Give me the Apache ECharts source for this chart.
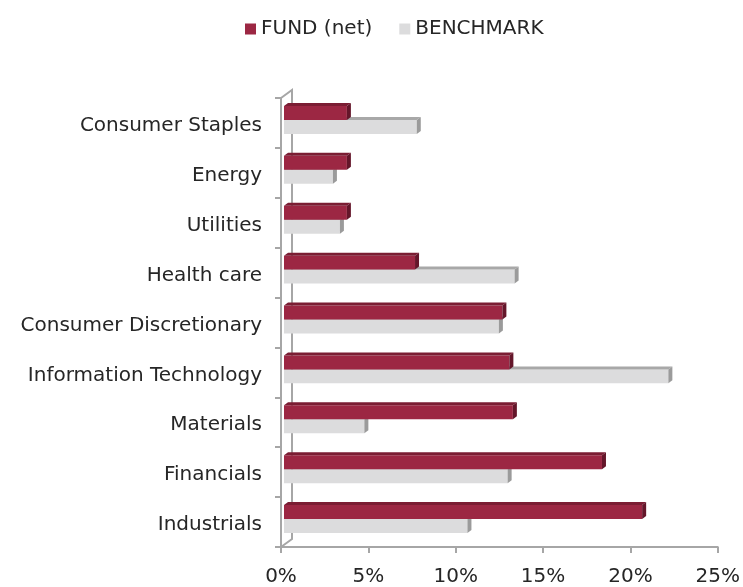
<!DOCTYPE html>
<html>
<head>
<meta charset="utf-8">
<script src="https://cdn.jsdelivr.net/npm/echarts@6/dist/echarts.min.js"></script>
<style>
  html, body { margin: 0; padding: 0; background: #fff; }
  #chart { width: 743px; height: 587px; }
</style>
</head>
<body>
<div id="chart"></div>
<script>
(function () {
    "use strict";

    // sectors, top to bottom
    var categories = [
        'Consumer Staples', 'Energy', 'Utilities', 'Health care',
        'Consumer Discretionary', 'Information Technology', 'Materials',
        'Financials', 'Industrials'
    ];
    var fundNet = [3.6, 3.6, 3.6, 7.5, 12.5, 12.9, 13.1, 18.2, 20.5];
    var benchmark = [7.6, 2.8, 3.2, 13.2, 12.3, 22.0, 4.6, 12.8, 10.5];
    var xTicks = [0, 5, 10, 15, 20, 25];

    var fontFam = 'DejaVu Sans';
    var axisGrey = '#a6a6a6';
    var textCol = '#262626';

    // colores de las caras del bloque 3d: frente, arriba, lado
    var fundFaces = ['#9c2743', '#7b1d33', '#64162a'];
    var benchFaces = ['#dcdcdd', '#a8a8a8', '#9b9b9b'];

    function toData(arr) {
        return arr.map(function (v, i) { return [i, v]; });
    }

    function bar3d(faces, slot) {
        return function (params, api) {
            var cat = api.value(0);
            var val = api.value(1);
            var band = api.size([0, 1])[1];
            var p0 = api.coord([0, cat]);
            var p1 = api.coord([val, cat]);
            var h = band * 0.28;
            var yt = p0[1] - band * 0.34 + slot * h;
            var yb = yt + h;
            var x0 = p0[0] + 3, x1 = p1[0] + 3;
            var dx = 4, dy = 3;
            return {
                type: 'group',
                children: [
                    { type: 'rect', shape: { x: x0, y: yt, width: x1 - x0, height: h },
                      style: { fill: faces[0] } },
                    { type: 'polygon', shape: { points: [[x0, yt], [x0 + dx, yt - dy], [x1 + dx, yt - dy], [x1, yt]] },
                      style: { fill: faces[1] } },
                    { type: 'polygon', shape: { points: [[x1, yt], [x1 + dx, yt - dy], [x1 + dx, yb - dy], [x1, yb]] },
                      style: { fill: faces[2] } }
                ]
            };
        };
    }

    // pared de fondo del grafico 3d
    function backWall(params, api) {
        var cs = params.coordSys;
        var dx = 11, dy = 8;
        var xb = cs.x + dx;
        return {
            type: 'polyline',
            shape: { points: [[cs.x, cs.y], [xb, cs.y - dy], [xb, cs.y + cs.height - dy], [cs.x, cs.y + cs.height]] },
            style: { stroke: axisGrey, lineWidth: 2, fill: null }
        };
    }

    var chart = echarts.init(document.getElementById('chart'));
    chart.setOption({
        animation: false,
        textStyle: { fontFamily: fontFam },
        legend: {
            data: ['FUND (net)', 'BENCHMARK'],
            left: 240,
            top: 14,
            icon: 'rect',
            itemWidth: 11,
            itemHeight: 11,
            itemGap: 27,
            textStyle: { fontSize: 20, color: textCol, fontFamily: fontFam }
        },
        grid: { left: 281, right: 21, top: 98, bottom: 39, containLabel: false },
        xAxis: {
            type: 'value',
            min: xTicks[0],
            max: xTicks[xTicks.length - 1],
            interval: xTicks[1] - xTicks[0],
            axisLine: { show: true, lineStyle: { color: axisGrey, width: 2 } },
            axisTick: { show: true, length: 6, lineStyle: { color: axisGrey, width: 2 } },
            splitLine: { show: false },
            axisLabel: { formatter: '{value}%', fontSize: 20, color: textCol, margin: 20, fontFamily: fontFam }
        },
        yAxis: {
            type: 'category',
            inverse: true,
            data: categories,
            axisLine: { show: true, lineStyle: { color: axisGrey, width: 2 } },
            axisTick: { show: true, length: 6, lineStyle: { color: axisGrey, width: 2 } },
            axisLabel: {
                margin: 19,
                formatter: function (v) { return '{c|' + v + '}'; },
                rich: {
                    c: { fontSize: 20, color: textCol, fontFamily: fontFam, padding: [6, 0, 0, 0] }
                }
            }
        },
        series: [
            {
                name: 'wall', type: 'custom', silent: true, z: 1,
                renderItem: backWall, data: [[0, 0]], encode: { x: 1, y: 0 }
            },
            {
                name: 'BENCHMARK', type: 'custom', z: 2,
                itemStyle: { color: benchFaces[0] },
                renderItem: bar3d(benchFaces, 1),
                data: toData(benchmark), encode: { x: 1, y: 0 }
            },
            {
                name: 'FUND (net)', type: 'custom', z: 3,
                itemStyle: { color: fundFaces[0] },
                renderItem: bar3d(fundFaces, 0),
                data: toData(fundNet), encode: { x: 1, y: 0 }
            }
        ]
    });
}());
</script>
</body>
</html>
